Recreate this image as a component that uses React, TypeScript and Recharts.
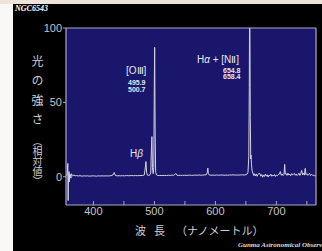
import React from 'react';
import { ComposedChart, Line, XAxis, YAxis, CartesianGrid } from 'recharts';

const wavelengths = [
  356, 357, 358, 358.5, 359, 360, 360.5, 361, 362, 363, 364, 365, 366, 368, 370, 372, 375, 378, 381, 384,
  387, 390, 393, 396, 399, 402, 405, 408, 411, 414, 417, 420, 423, 426, 429, 432, 434, 436, 439, 442,
  445, 448, 451, 454, 457, 460, 463, 466, 469, 472, 475, 478, 481, 483.5, 485, 486.1, 487.2, 488.5, 490, 492,
  494, 495, 495.9, 496.8, 498, 499, 499.8, 500.4, 501.2, 502, 503.5, 505, 508, 511, 514, 517, 520, 523, 526, 529,
  531, 533, 535, 537, 540, 543, 546, 549, 552, 555, 558, 561, 564, 567, 570, 573, 576, 579, 582, 585,
  586.8, 587.6, 588.5, 590, 593, 596, 599, 602, 605, 608, 611, 614, 617, 620, 623, 626, 629, 632, 635, 638,
  641, 644, 647, 650, 652, 653.5, 654.8, 655.6, 656.3, 657.2, 658, 658.4, 659.2, 660.2, 661.5, 663, 664, 665.5, 667, 668.5,
  670, 671.7, 673.1, 674.5, 676, 677.5, 679, 680.5, 682, 683.5, 685, 686.5, 688, 689.5, 691, 692.5, 694, 695.5, 697, 698.5,
  700, 701.5, 703, 705, 706.5, 708, 709.5, 711, 712.5, 713.6, 714.7, 716, 717.5, 719, 720.5, 722, 723.5, 725, 726.5, 728,
  729.5, 731, 732.5, 734, 735.5, 737, 738.5, 740, 741.5, 743, 744.5, 746, 747.3, 748.5, 750, 751.5, 753, 754.5, 756, 757.5,
  759, 760.5, 762, 763.5, 765,
];

const intensities = [
  0.5, 2, 9, -16, 1, 3.5, -3.5, 2, 1.5, -1, 2, 1, 0.5, 1.2, 0.6, 0.8, 0.5, 0.7, 0.4, 0.6,
  0.5, 0.6, 0.4, 0.5, 0.6, 0.5, 0.4, 0.6, 0.5, 0.6, 0.5, 0.6, 0.5, 0.6, 0.7, 1.2, 2.8, 0.9, 0.6, 0.7,
  0.6, 0.7, 0.6, 0.8, 0.7, 0.7, 0.8, 0.7, 0.8, 0.7, 0.8, 0.8, 0.9, 1.2, 6, 10.2, 3, 1.1, 0.9, 1,
  2.5, 18, 27, 6, 2, 6, 60, 87, 30, 3, 1.2, 0.9, 0.8, 0.9, 0.8, 0.9, 0.8, 1, 0.9, 1.1,
  0.9, 1.3, 2.2, 1, 0.9, 1, 0.9, 1, 0.9, 1, 1.1, 0.9, 1, 1.1, 1, 1.2, 1, 1.1, 1.2, 1.3,
  3, 5.8, 2, 1.2, 1, 1.1, 1, 1.2, 1, 1.1, 1.2, 1, 1.1, 1, 1.2, 1.1, 1.3, 1.1, 1.2, 1.1,
  1.2, 1.3, 1.1, 1.4, 1.8, 3, 14, 60, 140, 40, 12, 14.5, 8, 4, 2.5, 0.8, 2, 0.5, 1.9, 0.3,
  1.6, 2.4, 2, 0.4, 1.5, -0.3, 1.2, 0.2, 1.8, 0.4, 1.3, -0.2, 1.1, 0.6, 1.7, 0.3, 1.2, 0.5, 1.5, 0.2,
  1.1, 0.6, 1.4, 1.8, 3.5, 1, 1.9, 0.8, 1.6, 8.3, 1.8, 2.2, 0.9, 2.4, 1.1, 1.8, 0.7, 2.1, 1.2, 1.6,
  2.3, 1, 1.8, 0.8, 1.5, 2.4, 0.9, 2, 4.3, 1.2, 2.5, 1.1, 5.6, 1.4, 2.1, 0.9, 1.6, 2.2, 0.8, 1.5,
  1, 1.2, 0.6, 0.9, 0.4,
];

const xTicks = [400, 450, 500, 550, 600, 650, 700, 750];
const xLabelEvery = 100;
const yTicks = [0, 50, 100];
const yRightTicks = [50];

const data = wavelengths.map((w, i) => ({ w, v: intensities[i] }));

const FRAME = '#a9a9c6';
const TICK_TEXT = '#c4c4c4';
const PLOT_BG = '#1a166b';

const abs = (left: number, top: number, extra: React.CSSProperties = {}): React.CSSProperties => ({
  position: 'absolute',
  left,
  top,
  whiteSpace: 'nowrap',
  ...extra,
});

export default function App() {
  const sans = '"Liberation Sans", Arial, sans-serif';
  const jp = '"Noto Sans CJK JP", sans-serif';
  const serif = '"Liberation Serif", "Times New Roman", serif';
  const numStyle: React.CSSProperties = { color: '#e6e6e6', fontSize: 7, fontWeight: 'bold', lineHeight: '7px' };
  return (
    <div
      style={{
        position: 'fixed',
        left: 0,
        top: 0,
        width: 322,
        height: 251,
        background: '#000',
        overflow: 'hidden',
        fontFamily: sans,
      }}
    >
      <div style={abs(0, 0, { width: 322, height: 4, background: '#eee3d8' })} />
      <div style={abs(0, 4, { width: 13, height: 247, background: '#faf8f6' })} />
      <div style={abs(0, 0)}>
        <ComposedChart
          width={322}
          height={251}
          data={data}
          margin={{ top: 28, right: 6, bottom: 26, left: 0 }}
        >
          <CartesianGrid
            xAxisId="main"
            yAxisId="left"
            horizontal={false}
            vertical={false}
            fill={PLOT_BG}
            fillOpacity={1}
            stroke="none"
          />
          <XAxis
            xAxisId="main"
            dataKey="w"
            type="number"
            domain={[355, 765]}
            allowDataOverflow
            ticks={xTicks}
            interval={0}
            tickFormatter={(v: number) => (v % xLabelEvery === 0 ? String(v) : '')}
            tickSize={-4}
            tickMargin={6}
            height={20}
            tickLine={{ stroke: FRAME }}
            axisLine={{ stroke: FRAME, strokeWidth: 1.2 }}
            tick={{ fill: TICK_TEXT, fontSize: 11 }}
          />
          <XAxis
            xAxisId="top"
            orientation="top"
            mirror
            type="number"
            domain={[355, 765]}
            allowDataOverflow
            ticks={xTicks}
            interval={0}
            tick={false}
            tickSize={4}
            tickLine={{ stroke: FRAME }}
            axisLine={{ stroke: FRAME, strokeWidth: 1.2 }}
          />
          <YAxis
            yAxisId="left"
            type="number"
            domain={[-19, 100]}
            allowDataOverflow
            ticks={yTicks}
            interval={0}
            width={66}
            tickSize={3}
            tickMargin={1}
            tickLine={{ stroke: FRAME }}
            axisLine={{ stroke: FRAME, strokeWidth: 1.2 }}
            tick={{ fill: TICK_TEXT, fontSize: 11 }}
          />
          <YAxis
            yAxisId="right"
            orientation="right"
            mirror
            type="number"
            domain={[-19, 100]}
            allowDataOverflow
            ticks={yRightTicks}
            tick={false}
            tickSize={4}
            tickLine={{ stroke: FRAME }}
            axisLine={{ stroke: FRAME, strokeWidth: 1.2 }}
          />
          <Line
            xAxisId="main"
            yAxisId="left"
            type="linear"
            dataKey="v"
            stroke="#d4d4dc"
            strokeWidth={1}
            dot={false}
            isAnimationActive={false}
          />
        </ComposedChart>
      </div>

      {/* titles */}
      <div style={abs(15, 4, { color: '#fff', fontFamily: serif, fontStyle: 'italic', fontWeight: 'bold', fontSize: 8, lineHeight: '10px' })}>
        NGC6543
      </div>
      <div style={abs(238, 240, { color: '#ddd', fontFamily: serif, fontStyle: 'italic', fontWeight: 'bold', fontSize: 7, lineHeight: '10px' })}>
        Gunma Astronomical Observatory
      </div>

      {/* y-axis title (vertical) */}
      <div style={abs(31, 55, { color: '#cfcfcf', fontFamily: jp, fontSize: 12, lineHeight: '12px', writingMode: 'vertical-rl', letterSpacing: 7.5 })}>
        光の強さ
      </div>
      <div style={abs(32, 136, { color: '#cfcfcf', fontFamily: jp, fontSize: 10, lineHeight: '10px', writingMode: 'vertical-rl' })}>
        （相対値）
      </div>

      {/* x-axis title */}
      <div style={abs(135, 224, { color: '#cfcfcf', fontFamily: jp, fontSize: 11, lineHeight: '12px' })}>波</div>
      <div style={abs(154, 224, { color: '#cfcfcf', fontFamily: jp, fontSize: 11, lineHeight: '12px' })}>長</div>
      <div style={abs(176, 224, { color: '#cfcfcf', fontFamily: jp, fontSize: 11, lineHeight: '12px' })}>（ナノメートル）</div>

      {/* line annotations */}
      <div style={abs(197, 54, { color: '#e6e6e6', fontSize: 10, lineHeight: '11px' })}>
        H<i>α</i> + [NⅡ]
      </div>
      <div style={abs(223, 66.5, numStyle)}>654.8</div>
      <div style={abs(223, 73, numStyle)}>658.4</div>
      <div style={abs(126, 64.5, { color: '#e6e6e6', fontSize: 10, lineHeight: '11px' })}>[OⅢ]</div>
      <div style={abs(128, 79, numStyle)}>495.9</div>
      <div style={abs(128, 86, numStyle)}>500.7</div>
      <div style={abs(130, 148, { color: '#e6e6e6', fontSize: 10, lineHeight: '11px' })}>
        H<i>β</i>
      </div>
    </div>
  );
}
